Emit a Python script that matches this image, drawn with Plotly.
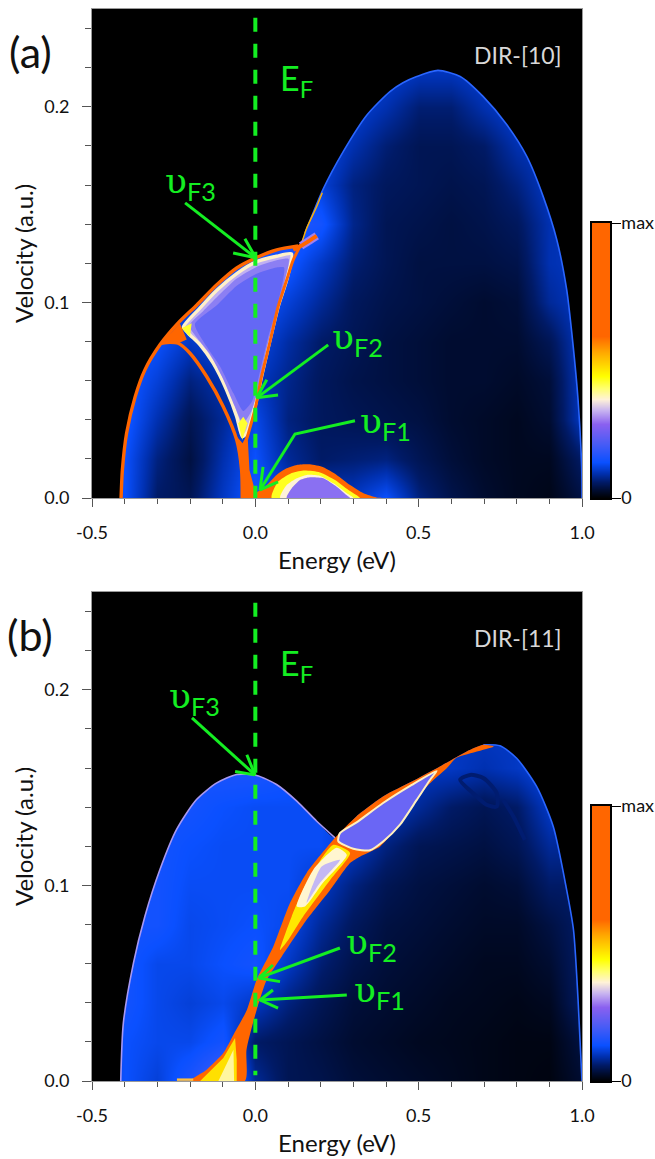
import plotly.graph_objects as go

# ---------- axes / colour scale values ----------
energy_nodes = [-0.5,-0.4,-0.3,-0.2,-0.1,0.0,0.1,0.2,0.3,0.4,0.5,0.6,0.7,0.8,0.9,1.0]
velocity_nodes = [0,0.02,0.04,0.06,0.08,0.10,0.12,0.14,0.16,0.18,0.20,0.22,0.25]
energy_ticks = [-0.5,0.0,0.5,1.0]
energy_tick_text = ["-0.5","0.0","0.5","1.0"]
colour_stops = [[0,"#000000"],[0.03,"#000c30"],[0.06,"#001a66"],[0.09,"#0030b0"],[0.13,"#0a50ff"],
                [0.20,"#4a5cf5"],[0.27,"#8a60f0"],[0.32,"#c8b4f0"],[0.36,"#fff2d8"],[0.40,"#ffff70"],
                [0.445,"#ffff00"],[0.53,"#ffa800"],[0.59,"#ff6600"],[1,"#ff6600"]]
colourbar_levels = [0,0.03,0.06,0.09,0.13,0.20,0.27,0.32,0.36,0.40,0.445,0.53,0.59,1]

# ---------- panel (a): intensity read at the nodes ----------
z_a = [
 [.10,.13,.06,.05,.10,.14,.11,.10,.10,.13,.07,.045,.03,.02,.015,.04],
 [.10,.13,.07,.04,.09,.13,.08,.06,.065,.07,.05,.035,.025,.02,.02,.06],
 [.10,.14,.09,.05,.08,.12,.07,.055,.05,.045,.04,.03,.025,.02,.03,.10],
 [.10,.14,.11,.07,.09,.10,.075,.055,.045,.04,.035,.03,.03,.025,.035,.10],
 [.10,.14,.13,.10,.12,.12,.085,.06,.05,.04,.035,.03,.03,.03,.05,.10],
 [.10,.14,.14,.12,.14,.14,.11,.08,.055,.045,.04,.035,.03,.035,.08,.10],
 [.10,.14,.14,.14,.14,.14,.14,.10,.065,.05,.04,.04,.04,.045,.09,.10],
 [.10,.14,.14,.14,.14,.14,.16,.14,.075,.05,.045,.04,.045,.055,.09,.10],
 [.10,.14,.14,.14,.14,.14,.14,.11,.07,.055,.05,.045,.05,.07,.10,.10],
 [.10,.14,.14,.14,.14,.14,.14,.12,.09,.065,.05,.05,.06,.09,.10,.10],
 [.10,.14,.14,.14,.14,.14,.14,.12,.11,.09,.065,.065,.09,.11,.10,.10],
 [.10,.14,.14,.14,.14,.14,.14,.12,.12,.11,.10,.10,.11,.12,.10,.10],
 [.10,.14,.14,.14,.14,.14,.14,.12,.12,.12,.13,.13,.13,.12,.10,.10],
]
outer_a_E = [-.411,-.407,-.394,-.368,-.338,-.292,-.236,-.179,-.118,-.057,.002,.0655,.131]
outer_a_v = [0,.0143,.0332,.0517,.0655,.0783,.0895,.0987,.109,.1176,.1228,.1269,.1289]
lobe_a_E = [.152,.208,.269,.341,.412,.452,.494,.559,.627,.697,.770,.831,.881,.923,.953,.972,.988,.999,1.0]
lobe_a_v = [.1354,.1581,.1771,.1957,.2078,.2123,.2155,.2186,.2155,.2053,.1908,.1746,.1542,.1319,.1066,.0793,.0501,.016,0]
lav_a_E = [-.220,-.169,-.118,-.057,.002,.065,.111,.096,.070,.045,.019,-.001,-.027,-.040,-.057,-.088,-.129,-.169,-.205,-.220]
lav_a_v = [.0875,.0972,.1062,.1147,.1207,.1236,.1248,.1115,.0979,.0808,.0621,.0467,.0331,.0314,.0416,.0552,.0689,.0783,.0842,.0875]
lav_mid_a_E = [-.202,-.160,-.118,-.057,.002,.065,.102,.086,.060,.032,.008,-.012,-.038,-.064,-.098,-.139,-.178,-.202]
lav_mid_a_v = [.0882,.0955,.1026,.1122,.118,.1215,.1222,.1085,.0925,.0745,.0555,.0445,.0382,.0472,.0606,.0735,.0818,.0882]
lav_in_a_E = [-.185,-.118,-.057,.002,.065,.088,.070,.038,.010,-.010,-.037,-.067,-.108,-.149,-.185]
lav_in_a_v = [.0888,.0985,.1085,.1145,.1178,.1178,.1,.0815,.0615,.0495,.0445,.0535,.0672,.0774,.0888]
arc_a_E = [-.287,-.261,-.236,-.2,-.149,-.098,-.057,-.042,-.04]
arc_a_v = [.0791,.0796,.0791,.074,.0621,.0467,.0297,.0143,0]
wedge_a_E = [-.041,-.045,-.057,-.039,-.024,-.018,.001,.001,-.041]
wedge_a_v = [0,.0143,.0314,.028,.0331,.0143,.0024,0,0]
tip_a_E = [-.052,-.04,-.024,-.037,-.052]
tip_a_v = [.0382,.0297,.0382,.0416,.0382]
joint_a_E = [-.287,-.231,-.21,-.236,-.287]
joint_a_v = [.0791,.0893,.081,.0791,.0791]
blob_a_E = [-.226,-.2,-.195,-.226]
blob_a_v = [.0868,.0825,.0893,.0868]
f2_a_E = [-.027,.001,.019,.045,.07,.096,.116,.142]
f2_a_v = [.0297,.0467,.0621,.08,.0979,.1115,.1217,.1303]
thin_a_E = [.142,.157,.188,.205]
thin_a_v = [.1303,.1379,.149,.156]
tail_a_E = [.116,.14,.167,.188]
tail_a_v = [.1269,.1289,.1317,.134]
bump_top_E = [.001,.035,.065,.096,.127,.167,.208,.249,.29,.331,.371,.40]
bump_top_v = [.0024,.0066,.0118,.0152,.0169,.0172,.0157,.0118,.0066,.0024,.0003,0]
bump_y_E = [.05,.07,.106,.147,.198,.244,.285,.32]
bump_y_v = [0,.0084,.0123,.014,.0131,.0092,.0041,0]
bump_p_E = [.076,.096,.127,.157,.198,.239,.28,.3]
bump_p_v = [0,.0066,.0101,.0118,.0113,.0075,.0024,0]
bump_l_E = [.096,.111,.137,.167,.208,.249,.28,.29]
bump_l_v = [0,.0049,.0092,.0106,.0101,.0058,.0014,0]

# ---------- panel (b) ----------
z_b = [
 [.10,.13,.11,.15,.20,.08,.05,.045,.035,.03,.025,.02,.015,.012,.01,.03],
 [.10,.13,.12,.12,.14,.06,.05,.04,.03,.025,.02,.018,.015,.012,.012,.04],
 [.10,.14,.12,.11,.12,.10,.07,.05,.035,.03,.025,.02,.018,.015,.02,.06],
 [.10,.14,.12,.12,.13,.14,.10,.065,.045,.035,.03,.025,.02,.02,.03,.06],
 [.10,.14,.14,.12,.125,.13,.12,.08,.055,.04,.035,.03,.025,.025,.04,.06],
 [.10,.14,.14,.125,.125,.125,.125,.10,.07,.05,.04,.035,.03,.035,.06,.06],
 [.10,.14,.14,.13,.125,.125,.125,.125,.10,.07,.05,.045,.04,.05,.08,.08],
 [.10,.14,.14,.14,.13,.125,.125,.125,.12,.10,.08,.06,.05,.06,.10,.10],
 [.10,.14,.14,.14,.15,.15,.14,.13,.12,.10,.10,.10,.09,.10,.12,.10],
 [.10,.15,.15,.15,.16,.16,.14,.13,.12,.10,.10,.10,.10,.10,.12,.10],
 [.10,.15,.15,.15,.16,.16,.14,.13,.12,.10,.10,.10,.10,.10,.12,.10],
 [.10,.15,.15,.15,.16,.16,.14,.13,.12,.10,.10,.10,.10,.10,.12,.10],
 [.10,.15,.15,.15,.16,.16,.14,.13,.12,.10,.10,.10,.10,.10,.12,.10],
]
outer_b_E = [-.412,-.404,-.373,-.338,-.292,-.241,-.18,-.118,-.057,.004,.065,.127,.188,.244]
outer_b_v = [0,.0297,.0604,.0842,.1081,.1286,.1439,.1524,.1567,.1562,.1516,.1431,.1328,.1243]
lobe_b_E = [.31,.392,.479,.565,.647,.698,.749,.8,.861,.912,.953,.974,.988,1.0]
lobe_b_v = [.1354,.1456,.1531,.1608,.1685,.1719,.1714,.165,.1506,.1301,.0977,.0772,.0414,0]
band_up_E = [-.2,-.149,-.098,-.067,-.026,.004,.055,.106,.157,.244,.31,.392,.479,.565,.647,.698]
band_up_v = [0,.0058,.0143,.0237,.0363,.0517,.0687,.091,.1064,.1243,.1354,.1456,.1531,.1608,.1685,.1719]
band_lo_E = [.73,.616,.586,.525,.453,.382,.32,.29,.229,.157,.081,.035,.004,-.027,-.032]
band_lo_v = [.171,.1652,.1599,.1506,.1335,.1199,.1147,.1115,.0977,.0824,.0636,.0517,.0363,.016,0]
y_low_E = [-.169,-.139,-.098,-.062,-.057,-.057,-.169]
y_low_v = [0,.0049,.0118,.022,.0109,0,0]
p_low_E = [-.113,-.088,-.067,-.065,-.113]
p_low_v = [0,.0092,.016,0,0]
y_mid_E = [.0756,.111,.157,.238,.29,.229,.146,.10,.0756]
y_mid_v = [.067,.084,.1013,.1207,.1166,.1028,.084,.072,.067]
p_mid_E = [.127,.177,.249,.28,.207,.152,.127]
p_mid_v = [.0892,.1079,.1192,.1156,.1013,.0892,.0892]
l_mid_E = [.157,.203,.259,.198,.157]
l_mid_v = [.091,.1096,.113,.1013,.091]
lav_b_E = [.254,.3,.351,.392,.443,.494,.535,.555,.479,.39,.31,.259,.254]
lav_b_v = [.1226,.1187,.118,.1226,.1311,.1437,.154,.1585,.1514,.142,.1322,.1267,.1226]
foot_b_E = [-.24,-.215,-.19]
foot_b_v = [.0007,.0007,.0007]
ring_b_E = [.627,.658,.699,.739,.739,.708,.667,.627]
ring_b_v = [.154,.1565,.1548,.1471,.1403,.1412,.1471,.154]
ring_tail_b_E = [.759,.79,.825]
ring_tail_b_v = [.1437,.1352,.1233]

# ---------- green annotations ----------
ef_E = [0, 0]
ef_a_v = [.2455, 0]
ef_b_v = [.2445, .003]
arrows_a = {
 "F3": ([-.215,.001],[.1509,.1228],[-.032,.001,-.068],[.1325,.1228,.1253]),
 "F2": ([.223,.004],[.0783,.0512],[.035,.004,.0695],[.0604,.0512,.0527]),
 "F1": ([.305,.1215,.0144],[.0395,.0327,.0041],[.0236,.0144,.0695],[.0159,.0041,.0082]),
}
arrows_b = {
 "F3": ([-.194,-.001],[.1857,.1565],[-.026,-.001,-.062],[.1668,.1565,.1582]),
 "F2": ([.259,.011],[.068,.0527],[.054,.011,.0756],[.0593,.0527,.0508]),
 "F1": ([.28,.0144],[.044,.0414],[.054,.0144,.0695],[.0465,.0414,.0373]),
}
NU = '<span style="font-family:DejaVu Serif">υ</span>'
labels_a = [(NU+"<sub>F3</sub>",-.2,.161),(NU+"<sub>F2</sub>",.314,.0815),(NU+"<sub>F1</sub>",.397,.0385)]
labels_b = [(NU+"<sub>F3</sub>",-.185,.196),(NU+"<sub>F2</sub>",.357,.07),(NU+"<sub>F1</sub>",.381,.0455)]

GREEN = "#14ee22"
ORANGE = "#ff6600"
FONT = "Lato"
W, H = 655, 1159
X0, X1 = 92, 582
A0, A1 = 9, 498
B0, B1 = 592, 1081
BAR_X0, BAR_X1 = 592, 610
BAR_H = 275

fig = go.Figure()

def line(ax, E, v, color, width, spline=True, dash=None):
    fig.add_trace(go.Scatter(x=E, y=v, xaxis="x"+ax, yaxis="y"+ax, mode="lines", hoverinfo="skip",
        line=dict(color=color, width=width, shape="spline" if spline else "linear", smoothing=0.7, dash=dash),
        showlegend=False))

def area(ax, E, v, color, edge=None, edge_w=0, spline=True):
    fig.add_trace(go.Scatter(x=E, y=v, xaxis="x"+ax, yaxis="y"+ax, mode="lines", fill="toself", fillcolor=color,
        hoverinfo="skip", showlegend=False,
        line=dict(color=edge or color, width=edge_w, shape="spline" if spline else "linear", smoothing=0.6)))

def heat(ax, z):
    fig.add_trace(go.Heatmap(x=energy_nodes, y=velocity_nodes, z=z, xaxis="x"+ax, yaxis="y"+ax, zmin=0, zmax=1,
        zsmooth="best", colorscale=colour_stops, hoverinfo="skip", showscale=False))

def mask(ax, up_E, up_v, lo_E, lo_v):
    E = [-.52,-.52,up_E[0]] + up_E + lo_E + [lo_E[-1],1.02,1.02]
    v = [.27,-.01,-.01] + up_v + lo_v + [-.01,-.01,.27]
    area(ax, E+[-.52], v+[.27], "#000000")

def arrows(ax, spec):
    for tail_E, tail_v, head_E, head_v in spec.values():
        line(ax, tail_E, tail_v, GREEN, 3, spline=False)
        line(ax, head_E, head_v, GREEN, 3, spline=False)

# ---- panel a ----
heat("", z_a)
mask("", outer_a_E, outer_a_v, lobe_a_E, lobe_a_v)
line("", lobe_a_E, lobe_a_v, "#2a66ff", 1.6)
area("", lav_a_E, lav_a_v, "#c0b0f2", "#fff0c8", 3.4)
area("", lav_mid_a_E, lav_mid_a_v, "#8c7ff3")
area("", lav_in_a_E, lav_in_a_v, "#6468f5")
area("", blob_a_E, blob_a_v, "#ffff30", spline=False)
area("", tip_a_E, tip_a_v, "#ffff30", spline=False)
area("", joint_a_E, joint_a_v, ORANGE, spline=False)
area("", wedge_a_E, wedge_a_v, ORANGE, spline=False)
line("", outer_a_E, outer_a_v, ORANGE, 3.4)
line("", arc_a_E, arc_a_v, ORANGE, 3.4)
line("", f2_a_E, f2_a_v, ORANGE, 3.0)
line("", thin_a_E, thin_a_v, "#ffb000", 1.4)
line("", tail_a_E[1:], tail_a_v[1:], "#a080f0", 8)
line("", tail_a_E, tail_a_v, ORANGE, 4)
area("", bump_top_E+[.001], bump_top_v+[0], ORANGE)
area("", bump_y_E+[.05], bump_y_v+[0], "#ffff20")
area("", bump_p_E+[.076], bump_p_v+[0], "#fff2d8")
area("", bump_l_E+[.096], bump_l_v+[0], "#8a70f2")
line("", ef_E, ef_a_v, GREEN, 4, spline=False, dash="14px,12px")
arrows("", arrows_a)

# ---- panel b ----
heat("2", z_b)
line("2", ring_b_E, ring_b_v, "#001c70", 4)
line("2", ring_tail_b_E, ring_tail_b_v, "#001c70", 4)
mask("2", outer_b_E, outer_b_v, lobe_b_E, lobe_b_v)
line("2", outer_b_E, outer_b_v, "#a898f2", 1.6)
line("2", lobe_b_E[5:], lobe_b_v[5:], "#2a66ff", 1.6)
area("2", band_up_E+band_lo_E+[-.2], band_up_v+band_lo_v+[0], ORANGE)
area("2", y_low_E, y_low_v, "#ffe000", spline=False)
area("2", p_low_E, p_low_v, "#fff6a0", spline=False)
area("2", y_mid_E, y_mid_v, "#ffe800")
area("2", p_mid_E, p_mid_v, "#fff6d0")
area("2", l_mid_E, l_mid_v, "#c4b8f4")
area("2", lav_b_E, lav_b_v, "#6a66f5", "#fff0c0", 2)
line("2", foot_b_E, foot_b_v, "#ffc040", 2.4, spline=False)
line("2", ef_E, ef_b_v, GREEN, 4, spline=False, dash="14px,12px")
arrows("2", arrows_b)

# ---- colour bars drawn as their own small heatmaps ----
for ax in ("3", "4"):
    fig.add_trace(go.Heatmap(x=[0,1], y=colourbar_levels, z=[[c,c] for c in colourbar_levels], xaxis="x"+ax, yaxis="y"+ax,
        zmin=0, zmax=1, zsmooth="best", colorscale=colour_stops, showscale=False, hoverinfo="skip"))

ann = []
def label(ax, text, E, v, size, color, anchor="center"):
    ann.append(dict(text=text, x=E, y=v, xref="x"+ax, yref="y"+ax, showarrow=False, xanchor=anchor, yanchor="middle",
                    font=dict(family=FONT, size=size, color=color)))
for ax, labs, dv in (("", labels_a, .2138), ("2", labels_b, .2128)):
    for t, e, v in labs:
        label(ax, t, e, v, 36, GREEN)
    label(ax, "E<sub>F</sub>", .125, dv, 34, GREEN)
label("", "DIR-[10]", .804, .2266, 23, "#d8d8d8")
label("2", "DIR-[11]", .804, .2266, 23, "#d8d8d8")
for t, py in (("(a)", 52), ("(b)", 634)):
    ann.append(dict(text=t, x=30/W, y=1-py/H, xref="paper", yref="paper", showarrow=False, xanchor="center",
                    yanchor="middle", font=dict(family=FONT, size=43, color="#111111")))

def xaxis(anchor):
    return dict(domain=[X0/W, X1/W], range=[-.5,1], anchor=anchor, tickvals=energy_ticks, ticktext=energy_tick_text,
                ticks="outside", ticklen=8, tickcolor="#555555", tickwidth=1.3, showgrid=False, zeroline=False,
                showline=True, mirror=True, linecolor="#9a9a9a", linewidth=1, ticklabelstandoff=10, automargin=False,
                minor=dict(dtick=.1, tick0=0, ticks="outside", ticklen=5, tickcolor="#555555", tickwidth=1.2, showgrid=False),
                tickfont=dict(family=FONT, size=18, color="#111111"),
                title=dict(text="Energy (eV)", standoff=10, font=dict(family=FONT, size=24, color="#111111")))
def yaxis(anchor, p0, p1):
    return dict(domain=[1-p1/H, 1-p0/H], range=[0,.25], anchor=anchor, dtick=.1, tickformat=".1f",
                ticks="outside", ticklen=9, tickcolor="#555555", tickwidth=1.3, showgrid=False, zeroline=False,
                showline=True, mirror=True, linecolor="#9a9a9a", linewidth=1, ticklabelstandoff=9, automargin=False,
                minor=dict(dtick=.02, ticks="outside", ticklen=6, tickcolor="#555555", tickwidth=1.2, showgrid=False),
                tickfont=dict(family=FONT, size=18, color="#111111"),
                title=dict(text="Velocity (a.u.)", standoff=3, font=dict(family=FONT, size=24, color="#111111")))
def bar_x(anchor):
    return dict(domain=[BAR_X0/W, BAR_X1/W], range=[0,1], anchor=anchor, showticklabels=False, ticks="", showgrid=False,
                zeroline=False, showline=True, mirror=True, linecolor="#000000", linewidth=1.5, automargin=False)
def bar_y(anchor, bottom):
    return dict(domain=[1-bottom/H, 1-(bottom-BAR_H)/H], range=[0,1], anchor=anchor, side="right",
                tickvals=[0,1], ticktext=["0","max"], ticks="outside", ticklen=9, tickcolor="#000000", tickwidth=1.3,
                showgrid=False, zeroline=False, showline=True, mirror=True, linecolor="#000000", linewidth=1.5,
                ticklabelstandoff=-3, automargin=False, tickfont=dict(family=FONT, size=18, color="#111111"))

fig.update_layout(width=W, height=H, autosize=False, margin=dict(l=0,r=0,t=0,b=0), paper_bgcolor="#ffffff",
                  plot_bgcolor="#000000", showlegend=False, annotations=ann,
                  xaxis=xaxis("y"), yaxis=yaxis("x", A0, A1), xaxis2=xaxis("y2"), yaxis2=yaxis("x2", B0, B1),
                  xaxis3=bar_x("y3"), yaxis3=bar_y("x3", A1), xaxis4=bar_x("y4"), yaxis4=bar_y("x4", B1))
fig.write_html("out.html", config=dict(displayModeBar=False),
               post_script="document.body.style.margin='0';document.documentElement.style.overflow='hidden';")
